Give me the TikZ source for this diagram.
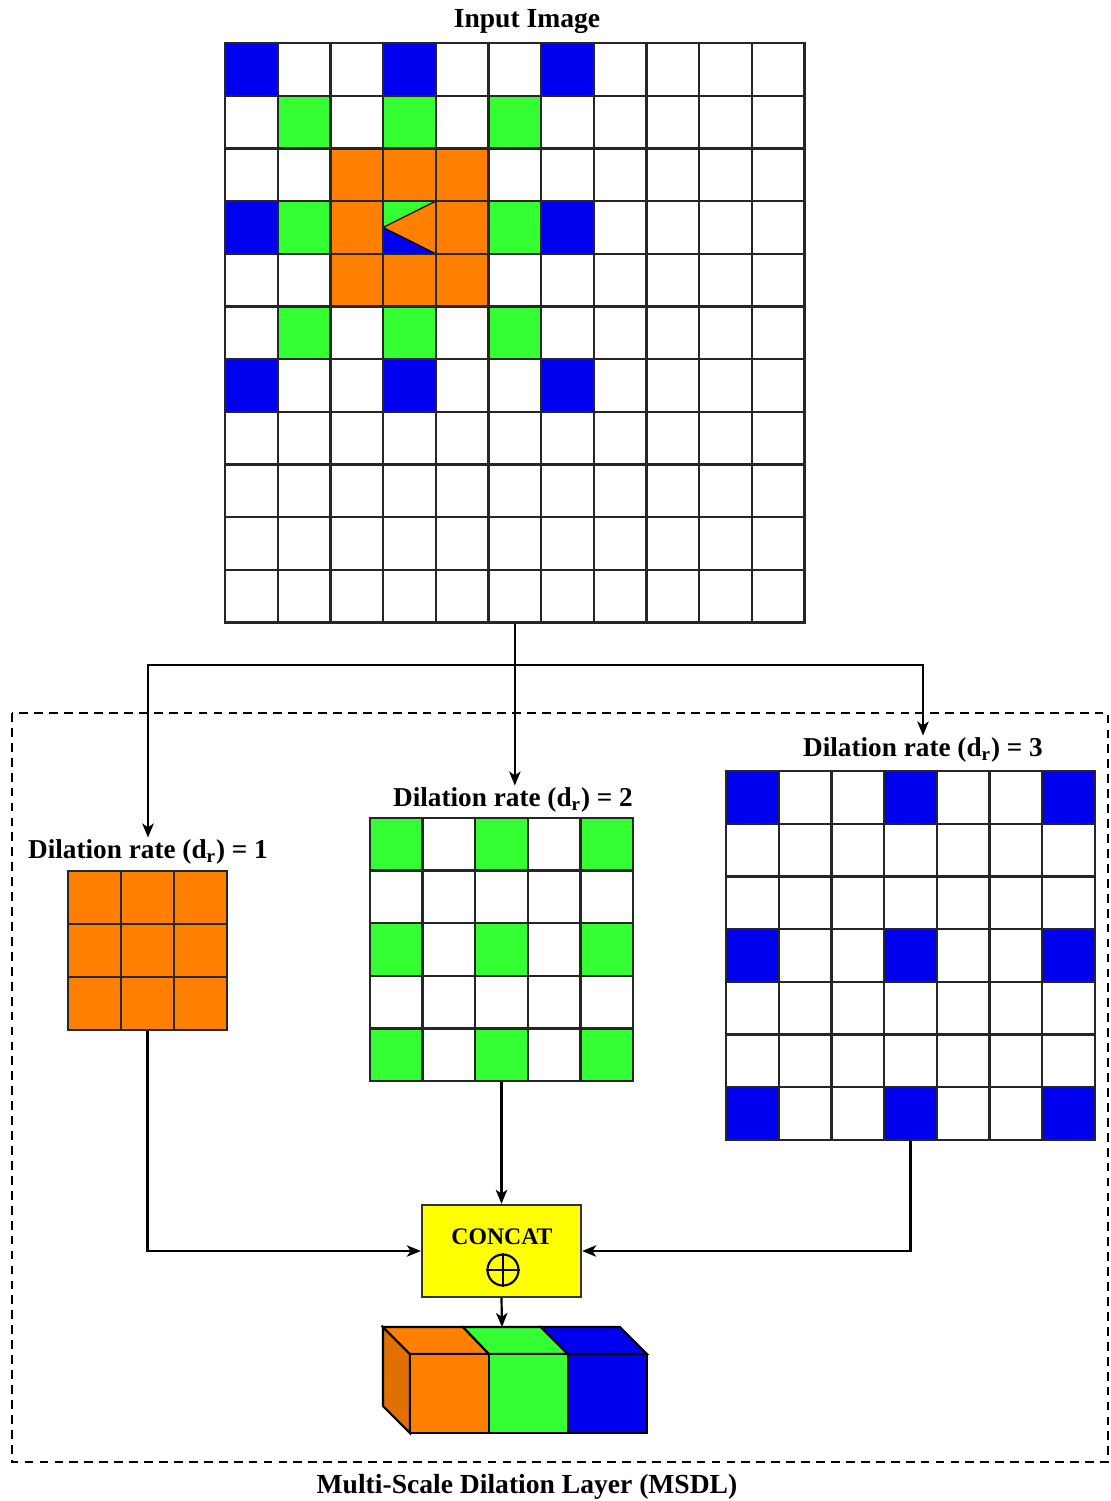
\documentclass[tikz,border=0pt]{standalone}
\usepackage{fontspec}
\setmainfont{Liberation Serif}
\usetikzlibrary{arrows.meta}
\definecolor{cblue}{RGB}{0,0,240}
\definecolor{cgreen}{RGB}{51,255,51}
\definecolor{corange}{RGB}{255,128,0}
\definecolor{cside}{RGB}{224,112,0}
\definecolor{cyellow}{RGB}{255,255,0}
\begin{document}
\begin{tikzpicture}[x=0.02cm,y=-0.02cm,
    cellline/.style={line width=1.35pt,draw=black!85},
    frame/.style={draw=black!85,line width=1.35pt,inner sep=0pt,fill=none},
    arr/.style={line width=1.25pt,-{Stealth[length=8pt,width=6.5pt,inset=2.2pt]}},
    title/.style={font=\fontsize{15.7}{18}\selectfont\bfseries},
    rate/.style={font=\fontsize{15.5}{18}\selectfont\bfseries,inner sep=1pt},
    concat/.style={draw=black!80,line width=1.35pt,fill=cyellow,minimum width=3.18cm,minimum height=1.84cm,inner sep=0pt}]
    \useasboundingbox (0,0) rectangle (1111,1501);
    % Input image
    \node[title] (intitle) at (527,22) {Input Image};
    \foreach \r/\c in {0/0,0/3,0/6,3/0,3/6,6/0,6/3,6/6}
        \fill[cblue] ({225+\c*52.7},{43+\r*52.7}) rectangle ++(52.7,52.7);% blue taps
    \foreach \r/\c in {1/1,1/3,1/5,3/1,3/5,5/1,5/3,5/5}
        \fill[cgreen] ({225+\c*52.7},{43+\r*52.7}) rectangle ++(52.7,52.7);% green taps
    \foreach \r in {2,3,4}
        \foreach \c in {2,3,4}
            \fill[corange] ({225+\c*52.7},{43+\r*52.7}) rectangle ++(52.7,52.7);% orange taps
    \filldraw[fill=cgreen,draw=black,line width=0.7pt] (383.1,201.1) -- (435.8,201.1) -- (383.1,227.45) -- cycle;% shared centre cell
    \filldraw[fill=cblue,draw=black,line width=0.7pt] (383.1,227.45) -- (383.1,253.8) -- (435.8,253.8) -- cycle;
    \foreach \i in {0,...,11} {
        \draw[cellline] ({225+\i*52.7},43) -- ++(0,579.7);
        \draw[cellline] (225,{43+\i*52.7}) -- ++(579.7,0);
    }
    \node[frame,minimum width=11.59cm,minimum height=11.59cm] (img) at (514.85,332.85) {};
    % MSDL frame
    \draw[line width=0.8pt,dash pattern=on 5pt off 3.5pt] (12,713) rectangle (1108,1462);
    \node[title] (msdl) at (527,1487) {Multi-Scale Dilation Layer (MSDL)};
    % Dilation rate 1
    \node[rate] (lab1) at (148,852) {Dilation rate (d\textsubscript{r}) = 1};
    \foreach \r in {0,1,2}
        \foreach \c in {0,1,2}
            \fill[corange] ({68+\c*53},{871+\r*53}) rectangle ++(53,53);
    \foreach \i in {0,...,3} {
        \draw[cellline] ({68+\i*53},871) -- ++(0,159);
        \draw[cellline] (68,{871+\i*53}) -- ++(159,0);
    }
    \node[frame,minimum width=3.18cm,minimum height=3.18cm] (g1) at (147.5,950.5) {};
    % Dilation rate 2
    \node[rate] (lab2) at (513,800) {Dilation rate (d\textsubscript{r}) = 2};
    \foreach \r in {0,2,4}
        \foreach \c in {0,2,4}
            \fill[cgreen] ({370+\c*52.6},{818+\r*52.6}) rectangle ++(52.6,52.6);
    \foreach \i in {0,...,5} {
        \draw[cellline] ({370+\i*52.6},818) -- ++(0,263);
        \draw[cellline] (370,{818+\i*52.6}) -- ++(263,0);
    }
    \node[frame,minimum width=5.26cm,minimum height=5.26cm] (g2) at (501.5,949.5) {};
    % Dilation rate 3
    \node[rate] (lab3) at (923,750) {Dilation rate (d\textsubscript{r}) = 3};
    \foreach \r in {0,3,6}
        \foreach \c in {0,3,6}
            \fill[cblue] ({726+\c*52.7},{771+\r*52.7}) rectangle ++(52.7,52.7);
    \foreach \i in {0,...,7} {
        \draw[cellline] ({726+\i*52.7},771) -- ++(0,368.9);
        \draw[cellline] (726,{771+\i*52.7}) -- ++(368.9,0);
    }
    \node[frame,minimum width=7.378cm,minimum height=7.378cm] (g3) at (910.45,955.45) {};
    % Concatenation
    \node[concat] (cat) at (501.5,1251) {};
    \node[font=\fontsize{13.5}{15}\selectfont\bfseries] (cattext) at (502,1237) {CONCAT};
    \node[circle,draw=black,line width=1.2pt,minimum size=0.62cm,inner sep=0pt] (plus) at (503,1270) {};
    \draw[line width=1.2pt] (plus.north) -- (plus.south);
    \draw[line width=1.2pt] (plus.west) -- (plus.east);
    % Stacked feature maps
    \filldraw[fill=cside,line width=1.2pt] (383,1327) -- (410,1354) -- (410,1433) -- (383,1406) -- cycle;% side
    \filldraw[fill=corange,line width=1.2pt] (383,1327) -- (463,1327) -- (489,1354) -- (410,1354) -- cycle;% top
    \filldraw[fill=cgreen,line width=1.2pt] (463,1327) -- (541,1327) -- (568,1354) -- (489,1354) -- cycle;
    \filldraw[fill=cblue,line width=1.2pt] (541,1327) -- (620,1327) -- (647,1354) -- (568,1354) -- cycle;
    \filldraw[fill=corange,line width=1.2pt] (410,1354) rectangle (489,1433);% front
    \filldraw[fill=cgreen,line width=1.2pt] (489,1354) rectangle (568,1433);
    \filldraw[fill=cblue,line width=1.2pt] (568,1354) rectangle (647,1433);
    \coordinate (stack) at (502,1327);
    % Connectors
    \coordinate (split) at (img.south |- 0,665);
    \draw[arr] (img.south) -- (img.south |- lab2.north);
    \draw[arr] (split) -| (lab1.north);
    \draw[arr] (split) -| (lab3.north);
    \draw[arr] (g1.south) |- (cat.west);
    \draw[arr] (g3.south) |- (cat.east);
    \draw[arr] (g2.south) -- (cat.north);
    \draw[arr] (cat.south) -- (stack);
\end{tikzpicture}
\end{document}
